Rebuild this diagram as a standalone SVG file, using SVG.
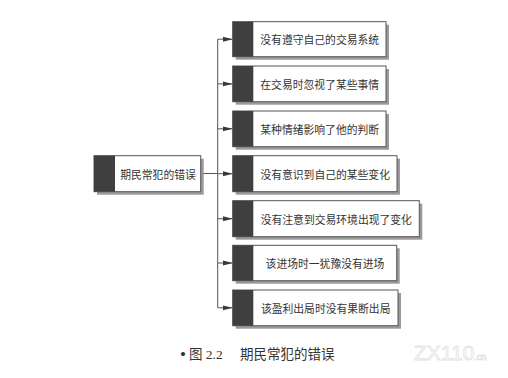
<svg xmlns="http://www.w3.org/2000/svg" width="508" height="378" viewBox="0 0 508 378">
<style>
.sh{fill:#9a9a9a}
.bx{fill:#fff;stroke:#555;stroke-width:1}
.bd{fill:#3f3f3f}
.t{font-family:"Noto Sans CJK SC","Liberation Sans",sans-serif;font-size:10.8px;fill:#333;text-anchor:middle;dominant-baseline:central}
.ln{fill:none;stroke:#555;stroke-width:1}
.cap{font-family:"Liberation Serif","Noto Sans CJK SC",serif;font-size:13.5px;fill:#333}
</style>
<defs>
<marker id="ah" markerWidth="10" markerHeight="6" refX="10" refY="3" orient="auto" markerUnits="userSpaceOnUse">
<path d="M0,0.5 L10,3 L0,5.5 Z" fill="#3a3a3a"/>
</marker>
</defs>
<rect width="508" height="378" fill="#fff"/>
<g id="connectors">
<path class="ln" d="M200.7,173.5 H217.7 M217.7,39.2 V307.8"/>
<path class="ln" marker-end="url(#ah)" d="M217.7,39.2 H232.7"/>
<path class="ln" marker-end="url(#ah)" d="M217.7,83.9 H232.7"/>
<path class="ln" marker-end="url(#ah)" d="M217.7,128.8 H232.7"/>
<path class="ln" marker-end="url(#ah)" d="M217.7,173.7 H232.7"/>
<path class="ln" marker-end="url(#ah)" d="M217.7,218.7 H232.7"/>
<path class="ln" marker-end="url(#ah)" d="M217.7,263 H232.7"/>
<path class="ln" marker-end="url(#ah)" d="M217.7,307.8 H232.7"/>
</g>
<g id="root">
<rect class="sh" x="97" y="158.7" width="106.7" height="36"/>
<rect class="bx" x="94" y="155.7" width="106.7" height="36"/>
<rect class="bd" x="94" y="155.7" width="21" height="36"/>
<text class="t" x="158" y="173.7">期民常犯的错误</text>
</g>
<g id="n1">
<rect class="sh" x="235.7" y="24.7" width="153.3" height="35"/>
<rect class="bx" x="232.7" y="21.7" width="153.3" height="35"/>
<rect class="bd" x="232.7" y="21.7" width="20.6" height="35"/>
<text class="t" x="319.7" y="39.2">没有遵守自己的交易系统</text>
</g>
<g id="n2">
<rect class="sh" x="235.7" y="69" width="153.3" height="35.7"/>
<rect class="bx" x="232.7" y="66" width="153.3" height="35.7"/>
<rect class="bd" x="232.7" y="66" width="20.6" height="35.7"/>
<text class="t" x="319.7" y="83.9">在交易时忽视了某些事情</text>
</g>
<g id="n3">
<rect class="sh" x="235.7" y="114" width="153.3" height="35.7"/>
<rect class="bx" x="232.7" y="111" width="153.3" height="35.7"/>
<rect class="bd" x="232.7" y="111" width="20.6" height="35.7"/>
<text class="t" x="319.7" y="128.8">某种情绪影响了他的判断</text>
</g>
<g id="n4">
<rect class="sh" x="235.7" y="158.7" width="164.3" height="36"/>
<rect class="bx" x="232.7" y="155.7" width="164.3" height="36"/>
<rect class="bd" x="232.7" y="155.7" width="20.6" height="36"/>
<text class="t" x="325.2" y="173.7">没有意识到自己的某些变化</text>
</g>
<g id="n5">
<rect class="sh" x="235.7" y="203.7" width="186.6" height="36"/>
<rect class="bx" x="232.7" y="200.7" width="186.6" height="36"/>
<rect class="bd" x="232.7" y="200.7" width="20.6" height="36"/>
<text class="t" x="336.3" y="218.7">没有注意到交易环境出现了变化</text>
</g>
<g id="n6">
<rect class="sh" x="235.7" y="248.3" width="164" height="35.4"/>
<rect class="bx" x="232.7" y="245.3" width="164" height="35.4"/>
<rect class="bd" x="232.7" y="245.3" width="20.6" height="35.4"/>
<text class="t" x="325" y="263">该进场时一犹豫没有进场</text>
</g>
<g id="n7">
<rect class="sh" x="235.7" y="293" width="165.3" height="35.7"/>
<rect class="bx" x="232.7" y="290" width="165.3" height="35.7"/>
<rect class="bd" x="232.7" y="290" width="20.6" height="35.7"/>
<text class="t" x="325.7" y="307.8">该盈利出局时没有果断出局</text>
</g>
<text class="cap" x="180" y="359"><tspan font-size="17" dy="1">•</tspan><tspan x="189" dy="-1">图 2.2</tspan><tspan x="240">期民常犯的错误</tspan></text>
<text x="414" y="360" font-family="Liberation Sans, sans-serif" font-size="21" fill="#fff" stroke="#e2e2e2" stroke-width="0.8">ZX110<tspan font-size="9">.cn</tspan></text>
</svg>
